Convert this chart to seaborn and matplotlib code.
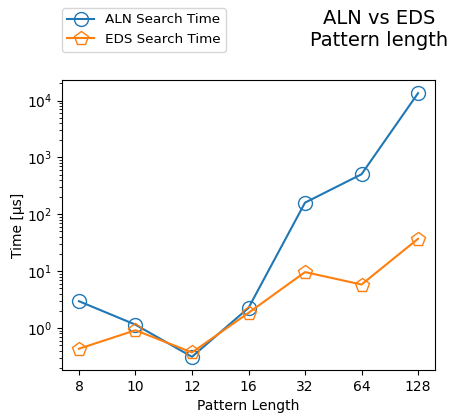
import matplotlib
matplotlib.use("Agg")
import matplotlib.pyplot as plt
import seaborn as sns
import pandas as pd

pattern_lengths = ["8", "10", "12", "16", "32", "64", "128"]
aln_time = [2.95, 1.14, 0.31, 2.25, 160, 506, 13500]
eds_time = [0.43, 0.91, 0.37, 1.84, 9.6, 5.8, 37]

plt.rcParams['font.family'] = ['DejaVu Sans']

fig = plt.figure(figsize=(4.51, 4.17), dpi=100)
ax = fig.add_axes([62/451, 1 - 370/417, (435-62)/451, (370-80)/417])

df_aln = pd.DataFrame({"Pattern Length": pattern_lengths, "Time": aln_time})
df_eds = pd.DataFrame({"Pattern Length": pattern_lengths, "Time": eds_time})

sns.lineplot(data=df_aln, x="Pattern Length", y="Time", ax=ax, sort=False,
             color="#1f77b4", marker="o", markersize=10, markerfacecolor="none",
             markeredgecolor="#1f77b4", markeredgewidth=1.0, linewidth=1.5,
             label="ALN Search Time")
sns.lineplot(data=df_eds, x="Pattern Length", y="Time", ax=ax, sort=False,
             color="#ff7f0e", marker="p", markersize=10, markerfacecolor="none",
             markeredgecolor="#ff7f0e", markeredgewidth=1.0, linewidth=1.5,
             label="EDS Search Time")

ax.set_yscale("log")
ax.set_xlabel("Pattern Length", fontsize=10)
ax.set_ylabel("Time [µs]", fontsize=10, labelpad=1.5)
ax.tick_params(labelsize=10)

ax.legend(loc="upper left", bbox_to_anchor=(62/451, 1 - 8/417),
          bbox_transform=fig.transFigure, borderaxespad=0, fontsize=9.7)
fig.text(379/451, 1 - 29.5/417, "ALN vs EDS\nPattern length", ha="center", va="center",
         multialignment="center", fontsize=14)

fig.savefig("out.png", dpi=100)
